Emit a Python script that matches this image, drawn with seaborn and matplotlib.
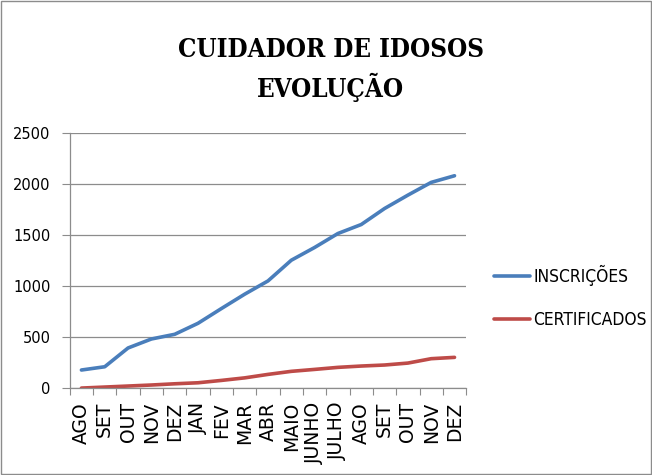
import matplotlib
matplotlib.use("Agg")
import matplotlib.pyplot as plt
import seaborn as sns
import pandas as pd
import numpy as np
from matplotlib.patches import Rectangle
from matplotlib.lines import Line2D

meses = ["AGO", "SET", "OUT", "NOV", "DEZ", "JAN", "FEV", "MAR", "ABR", "MAIO",
         "JUNHO", "JULHO", "AGO", "SET", "OUT", "NOV", "DEZ"]
inscricoes = [177, 209, 393, 481, 527, 635, 779, 920, 1050, 1253, 1378, 1515,
              1603, 1760, 1891, 2016, 2081]
certificados = [0, 10, 20, 30, 42, 52, 75, 100, 134, 164, 183, 203, 216, 226,
                245, 288, 301]
series_names = ["INSCRIÇÕES", "CERTIFICADOS"]
colors = ["#4A7EBB", "#BE4B48"]

sns.set_theme(style="white")
plt.rcParams['font.family'] = ['DejaVu Sans']
plt.rcParams['text.color'] = 'black'

idx = list(range(len(meses)))
df = pd.DataFrame({
    "pos": idx * 2,
    "valor": inscricoes + certificados,
    "serie": [series_names[0]] * len(meses) + [series_names[1]] * len(meses),
})

fig = plt.figure(figsize=(6.52, 4.75), dpi=100)
ax = fig.add_axes([0.107, 0.183, 0.608, 0.537])

sns.lineplot(data=df, x="pos", y="valor", hue="serie", palette=colors,
             linewidth=2.6, ax=ax, legend=False)

ax.set_xlim(-0.5, len(meses) - 0.5)
ax.set_ylim(0, 2500)
ax.set_yticks([0, 500, 1000, 1500, 2000, 2500])
ax.yaxis.grid(True, color="#8c8c8c", linewidth=0.9)
ax.set_xlabel("")
ax.set_ylabel("")

ax.set_xticks(idx)
ax.set_xticklabels(meses, rotation=90, fontsize=13.5)
ax.set_xticks(np.arange(-0.5, len(meses), 1), minor=True)
ax.tick_params(axis="x", which="major", length=0, pad=10, labelcolor="black")
ax.tick_params(axis="x", which="minor", length=5, width=0.8, color="#8c8c8c",
               direction="out", bottom=True)
ax.tick_params(axis="y", which="major", length=6, width=0.8, color="#8c8c8c",
               direction="out", left=True, labelsize=10.5, pad=8, labelcolor="black")

for s in ["top", "right"]:
    ax.spines[s].set_visible(False)
for s in ["left", "bottom"]:
    ax.spines[s].set_color("#8c8c8c")
    ax.spines[s].set_linewidth(0.9)

title_font = dict(family=['DejaVu Serif'], fontstretch='condensed',
                  fontsize=18.5, fontweight='bold', color='black')
fig.text(0.507, 0.895, "CUIDADOR DE IDOSOS", ha="center", va="center", **title_font)
fig.text(0.507, 0.815, "EVOLUÇÃO", ha="center", va="center", **title_font)

handles = [Line2D([0], [0], color=c, lw=2.6) for c in colors]
leg = fig.legend(handles, series_names, loc="upper left",
                 bbox_to_anchor=(0.747, 0.457), frameon=False,
                 prop=dict(size=12.5, stretch='condensed'),
                 handlelength=2.1, handletextpad=0.17, labelspacing=1.47,
                 borderaxespad=0)

fig.patches.append(Rectangle((0.001, 0.003), 0.997, 0.995, transform=fig.transFigure,
                             fill=False, edgecolor="#8c8c8c", linewidth=1))

fig.savefig("out.png", dpi=100)
